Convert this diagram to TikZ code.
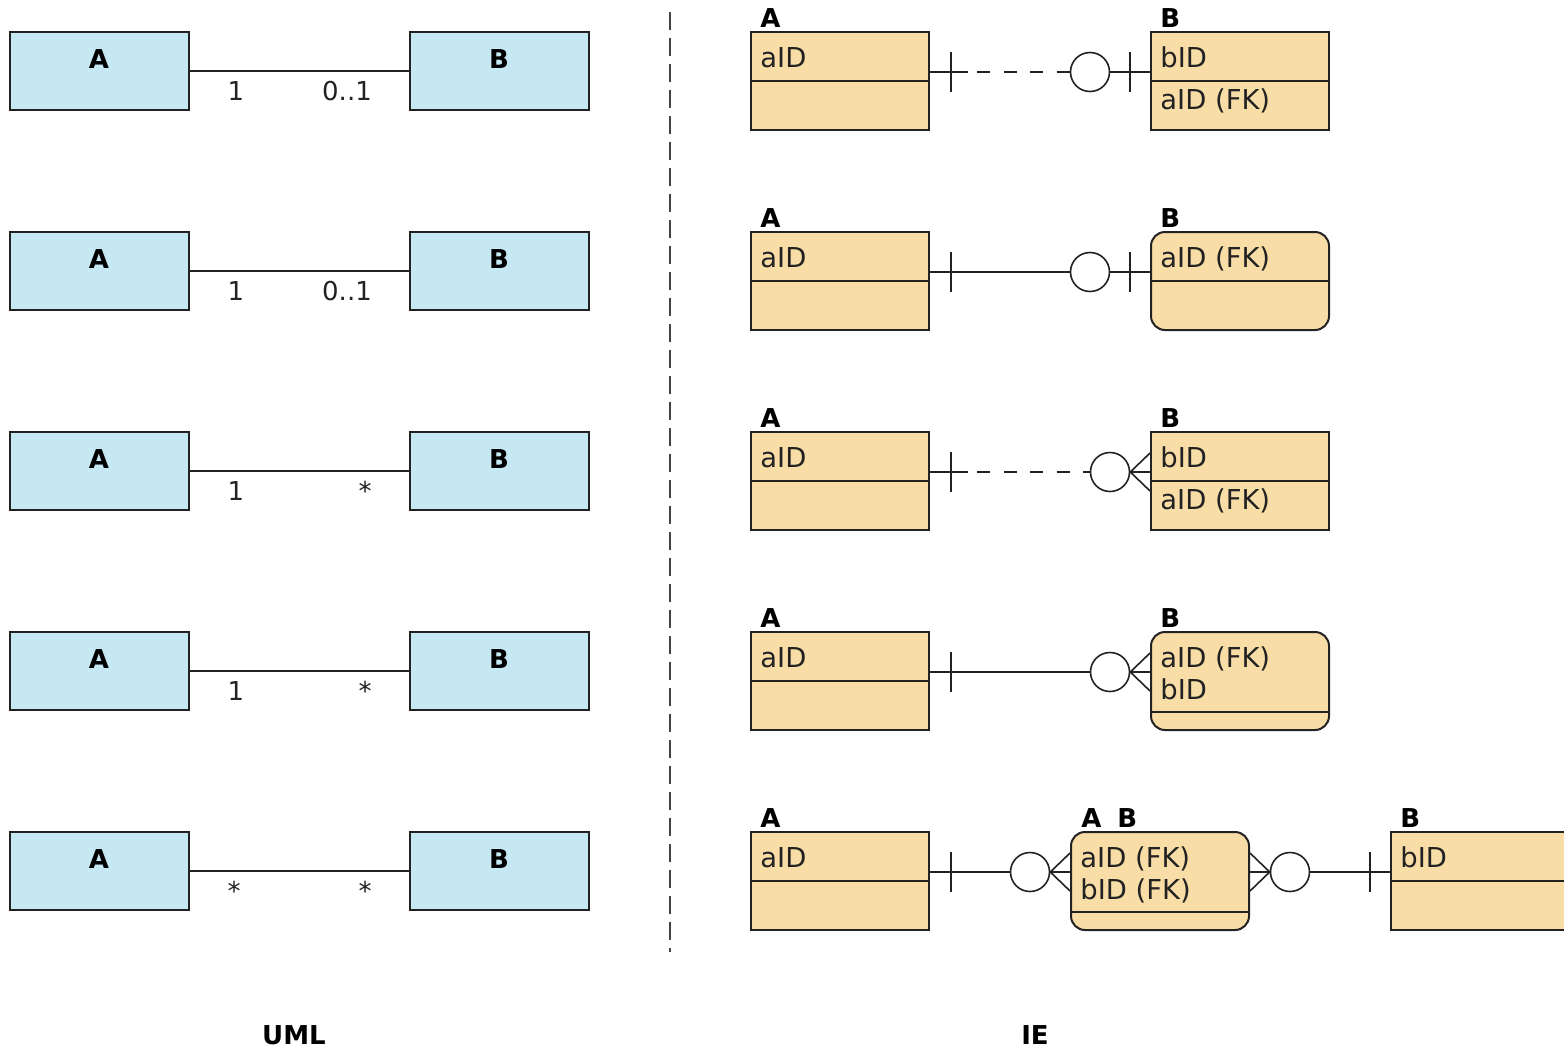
\documentclass[tikz,border=0pt]{standalone}
\usepackage{fontspec}
\setmainfont{DejaVu Sans}
\usetikzlibrary{calc}
\definecolor{umlblue}{HTML}{C5E8F2}
\definecolor{erorange}{HTML}{F9DDA6}
\definecolor{edgecol}{HTML}{222222}
\begin{document}
\begin{tikzpicture}[x=0.5pt,y=-0.5pt,
 umlbox/.style={draw=edgecol,line width=1pt,fill=umlblue,minimum width=89.5pt,minimum height=39pt,inner sep=0pt},
 erbox/.style={draw=edgecol,line width=1pt,fill=erorange,minimum width=89pt,minimum height=49pt,inner sep=0pt},
 erround/.style={erbox,rounded corners=7pt},
 lbl/.style={font=\bfseries\fontsize{13}{15}\selectfont,anchor=base,inner sep=0pt},
 lbll/.style={lbl,anchor=base west},
 attr/.style={font=\fontsize{13.7}{16}\selectfont,anchor=base west,inner sep=0pt,text=edgecol},
 mult/.style={font=\fontsize{13}{15}\selectfont,anchor=base,inner sep=0pt,text=edgecol},
 conn/.style={draw=edgecol,line width=0.8pt},
 rel/.style={conn,dash pattern=on 6.5pt off 6.75pt,dash phase=8.75pt},
 circ/.style={circle,draw=edgecol,line width=0.8pt,minimum size=19.5pt,inner sep=0pt},
 divline/.style={draw=edgecol,line width=1pt},
 sepline/.style={draw=edgecol!85,line width=1pt,dash pattern=on 9pt off 4pt},
]
\clip (0,0) rectangle (1564,1050);
\fill[white] (0,0) rectangle (1564,1050);

% ---------- UML ----------
\node[umlbox] (ua1) at (99.5,71) {};
\node[umlbox] (ub1) at (499.5,71) {};
\node[umlbox] (ua2) at (99.5,271) {};
\node[umlbox] (ub2) at (499.5,271) {};
\node[umlbox] (ua3) at (99.5,471) {};
\node[umlbox] (ub3) at (499.5,471) {};
\node[umlbox] (ua4) at (99.5,671) {};
\node[umlbox] (ub4) at (499.5,671) {};
\node[umlbox] (ua5) at (99.5,871) {};
\node[umlbox] (ub5) at (499.5,871) {};
\foreach \i in {1,...,5}{
  \node[lbl] (uat\i) at (99,68+200*\i-200) {A};
  \node[lbl] (ubt\i) at (499,68+200*\i-200) {B};
  \draw[conn] (ua\i.east) -- (ub\i.west);
}
\node[mult] (m1a) at (236,100) {1};
\node[mult] (m1b) at (347,100) {0..1};
\node[mult] (m2a) at (236,300) {1};
\node[mult] (m2b) at (347,300) {0..1};
\node[mult] (m3a) at (236,500) {1};
\node[mult] (m3b) at (365,500) {*};
\node[mult] (m4a) at (236,700) {1};
\node[mult] (m4b) at (365,700) {*};
\node[mult] (m5a) at (234,900) {*};
\node[mult] (m5b) at (365,900) {*};

% ---------- separator ----------
\coordinate (sepTop) at (670,12);
\coordinate (sepBot) at (670,952);
\draw[sepline] (sepTop) -- (sepBot);

% ---------- IE row 1 ----------
\node[erbox] (ea1) at (840,81) {};
\node[erbox] (eb1) at (1240,81) {};
\draw[divline] (ea1.west) -- (ea1.east);
\draw[divline] (eb1.west) -- (eb1.east);
\node[lbll] (ea1t) at (760,27) {A};
\node[lbll] (eb1t) at (1160,27) {B};
\node[attr] (ea1x) at (760,67) {aID};
\node[attr] (eb1x) at (1160,67) {bID};
\node[attr] (eb1y) at (1160,109) {aID (FK)};
\node[circ] (o1) at (1090,72) {};
\draw[conn] (ea1.east|-o1) -- ($(ea1.east|-o1)+(38,0)$) coordinate (d1);
\draw[rel] (d1) -- (o1.west);
\draw[conn] (o1.east) -- (eb1.west|-o1);
\draw[conn] ($(ea1.east|-o1)+(21,-20)$) -- +(0,40);
\draw[conn] ($(eb1.west|-o1)+(-20,-20)$) -- +(0,40);

% ---------- IE row 2 ----------
\node[erbox] (ea2) at (840,281) {};
\node[erround] (eb2) at (1240,281) {};
\draw[divline] (ea2.west) -- (ea2.east);
\draw[divline] (eb2.west) -- (eb2.east);
\node[lbll] (ea2t) at (760,227) {A};
\node[lbll] (eb2t) at (1160,227) {B};
\node[attr] (ea2x) at (760,267) {aID};
\node[attr] (eb2x) at (1160,267) {aID (FK)};
\node[circ] (o2) at (1090,272) {};
\draw[conn] (ea2.east|-o2) -- (o2.west);
\draw[conn] (o2.east) -- (eb2.west|-o2);
\draw[conn] ($(ea2.east|-o2)+(21,-20)$) -- +(0,40);
\draw[conn] ($(eb2.west|-o2)+(-20,-20)$) -- +(0,40);

% ---------- IE row 3 ----------
\node[erbox] (ea3) at (840,481) {};
\node[erbox] (eb3) at (1240,481) {};
\draw[divline] (ea3.west) -- (ea3.east);
\draw[divline] (eb3.west) -- (eb3.east);
\node[lbll] (ea3t) at (760,427) {A};
\node[lbll] (eb3t) at (1160,427) {B};
\node[attr] (ea3x) at (760,467) {aID};
\node[attr] (eb3x) at (1160,467) {bID};
\node[attr] (eb3y) at (1160,509) {aID (FK)};
\node[circ] (o3) at (1110,472) {};
\draw[conn] (ea3.east|-o3) -- ($(ea3.east|-o3)+(38,0)$) coordinate (d3);
\draw[rel] (d3) -- (o3.west);
\draw[conn] ($(ea3.east|-o3)+(21,-20)$) -- +(0,40);
\draw[conn] ($(eb3.west|-o3)+(0,-19)$) -- (o3.east);
\draw[conn] (eb3.west|-o3) -- (o3.east);
\draw[conn] ($(eb3.west|-o3)+(0,19)$) -- (o3.east);

% ---------- IE row 4 ----------
\node[erbox] (ea4) at (840,681) {};
\node[erround] (eb4) at (1240,681) {};
\draw[divline] (ea4.west) -- (ea4.east);
\draw[divline] ($(eb4.west)+(0,31)$) -- ($(eb4.east)+(0,31)$);
\node[lbll] (ea4t) at (760,627) {A};
\node[lbll] (eb4t) at (1160,627) {B};
\node[attr] (ea4x) at (760,667) {aID};
\node[attr] (eb4x) at (1160,667) {aID (FK)};
\node[attr] (eb4y) at (1160,699) {bID};
\node[circ] (o4) at (1110,672) {};
\draw[conn] (ea4.east|-o4) -- (o4.west);
\draw[conn] ($(ea4.east|-o4)+(21,-20)$) -- +(0,40);
\draw[conn] ($(eb4.west|-o4)+(0,-19)$) -- (o4.east);
\draw[conn] (eb4.west|-o4) -- (o4.east);
\draw[conn] ($(eb4.west|-o4)+(0,19)$) -- (o4.east);

% ---------- IE row 5 ----------
\node[erbox] (ea5) at (840,881) {};
\node[erround] (eab) at (1160,881) {};
\node[erbox] (eb5) at (1480,881) {};
\draw[divline] (ea5.west) -- (ea5.east);
\draw[divline] ($(eab.west)+(0,31)$) -- ($(eab.east)+(0,31)$);
\draw[divline] (eb5.west) -- (eb5.east);
\node[lbll] (ea5t) at (760,827) {A};
\node[lbll] (eab5t) at (1081,827) {A};
\node[lbll] (eab5u) at (1117,827) {B};
\node[lbll] (eb5t) at (1400,827) {B};
\node[attr] (ea5x) at (760,867) {aID};
\node[attr] (eab5x) at (1080,867) {aID (FK)};
\node[attr] (eab5y) at (1080,899) {bID (FK)};
\node[attr] (eb5x) at (1400,867) {bID};
\node[circ] (o5a) at (1030,872) {};
\node[circ] (o5b) at (1290,872) {};
\draw[conn] (ea5.east|-o5a) -- (o5a.west);
\draw[conn] ($(ea5.east|-o5a)+(21,-20)$) -- +(0,40);
\draw[conn] ($(eab.west|-o5a)+(0,-19)$) -- (o5a.east);
\draw[conn] (eab.west|-o5a) -- (o5a.east);
\draw[conn] ($(eab.west|-o5a)+(0,19)$) -- (o5a.east);
\draw[conn] ($(eab.east|-o5b)+(0,-19)$) -- (o5b.west);
\draw[conn] (eab.east|-o5b) -- (o5b.west);
\draw[conn] ($(eab.east|-o5b)+(0,19)$) -- (o5b.west);
\draw[conn] (o5b.east) -- (eb5.west|-o5b);
\draw[conn] ($(eb5.west|-o5b)+(-20,-20)$) -- +(0,40);

% ---------- captions ----------
\node[lbl] (capuml) at (294,1044) {UML};
\node[lbl] (capie) at (1035,1044) {IE};
\end{tikzpicture}
\end{document}
